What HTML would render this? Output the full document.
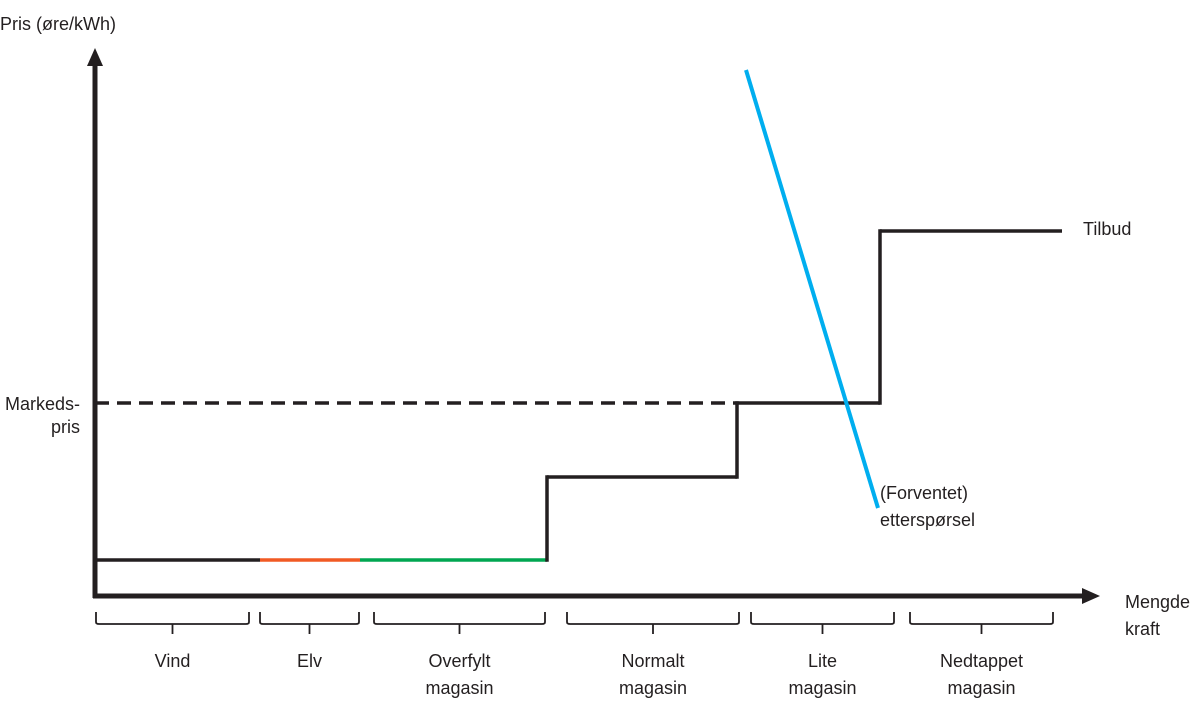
<!DOCTYPE html>
<html><head><meta charset="utf-8"><style>
body{margin:0;background:#fff;}
svg{display:block;font-family:"Liberation Sans",sans-serif;}
</style></head><body>
<svg id="c" width="1200" height="713" viewBox="0 0 1200 713">
<defs><marker id="ah" markerWidth="10" markerHeight="10" refX="0" refY="0" viewBox="-1 -5 10 10" orient="auto" markerUnits="userSpaceOnUse"></marker></defs>
<g id="g"></g>
</svg>
<script>
// data (quantity units, price units)
const stepQ = [0, 16.5, 26.5, 45.2, 64.2, 78.5, 96.7];
const stepP = [0, 0, 0, 8.3, 15.7, 32.9];
const stepColors = ['#231f20', '#f15a24', '#00a651', '#231f20', '#231f20', '#231f20'];
const marketPrice = 15.7;
const marketQ = 64.2;
const demandQ = [65.1, 78.3];
const demandP = [49, 5.2];
const categories = ['Vind', 'Elv', 'Overfylt|magasin', 'Normalt|magasin', 'Lite|magasin', 'Nedtappet|magasin'];
const catStart = [0.1, 16.5, 27.9, 47.2, 65.6, 81.5];
const catEnd = [15.4, 26.4, 45.0, 64.4, 79.9, 95.8];

const X = q => 95 + q * 10;
const Y = p => 560 - p * 10;
const NS = 'http://www.w3.org/2000/svg';
const g = document.getElementById('g');
function mk(tag, attrs, parent) {
  const e = document.createElementNS(NS, tag);
  for (const k in attrs) e.setAttribute(k, attrs[k]);
  (parent || g).appendChild(e);
  return e;
}
function txt(x, y, s, anchor) {
  const t = mk('text', {x: x, y: y, 'font-size': 18, fill: '#231f20', 'text-anchor': anchor || 'start'});
  t.textContent = s;
  return t;
}
let e;
// axes
e = mk('line', {x1: 95, y1: 598, x2: 95, y2: 62, stroke: '#231f20', 'stroke-width': 5});


e = mk('polygon', {points: '95,48 87,66 103,66', fill: '#231f20'});


e = mk('line', {x1: 93, y1: 596, x2: 1085, y2: 596, stroke: '#231f20', 'stroke-width': 5});


e = mk('polygon', {points: '1100,596 1082,588 1082,604', fill: '#231f20'});


e = txt(0, 30, 'Pris (øre/kWh)');


e = txt(1125, 608, 'Mengde');


e = txt(1125, 635, 'kraft');


// market price dashed
e = mk('line', {x1: X(0), y1: Y(marketPrice), x2: X(marketQ), y2: Y(marketPrice), stroke: '#231f20', 'stroke-width': 3.5, 'stroke-dasharray': '14,8'});


e = txt(80, 410, 'Markeds-', 'end');


e = txt(80, 433, 'pris', 'end');


// supply steps
for (let i = 0; i < stepP.length; i++) {
  e = mk('line', {x1: X(stepQ[i]), y1: Y(stepP[i]), x2: X(stepQ[i + 1]), y2: Y(stepP[i]), stroke: stepColors[i], 'stroke-width': 3.5});
  
  
  if (i > 0 && stepP[i] !== stepP[i - 1]) {
    e = mk('line', {x1: X(stepQ[i]), y1: Y(stepP[i - 1]) + 1.7, x2: X(stepQ[i]), y2: Y(stepP[i]) - 1.7, stroke: '#231f20', 'stroke-width': 3.5});
    
    
  }
}
e = txt(1083, 235, 'Tilbud');


// demand
e = mk('line', {x1: X(demandQ[0]), y1: Y(demandP[0]), x2: X(demandQ[1]), y2: Y(demandP[1]), stroke: '#00aeef', 'stroke-width': 4});


e = txt(880, 499, '(Forventet)');


e = txt(880, 526, 'etterspørsel');


// brackets
for (let i = 0; i < categories.length; i++) {
  const a = X(catStart[i]), b = X(catEnd[i]), m = (a + b) / 2;
  e = mk('path', {d: `M${a},612 L${a},622 Q${a},624 ${a+3},624 L${b-3},624 Q${b},624 ${b},622 L${b},612 M${m},624 L${m},634`, fill: 'none', stroke: '#231f20', 'stroke-width': 1.8});
  
  
  const parts = categories[i].split('|');
  parts.forEach((s, k) => {
    e = txt(m, 667 + k * 27, s, 'middle');
    
    
  });
}
</script>
</body></html>
